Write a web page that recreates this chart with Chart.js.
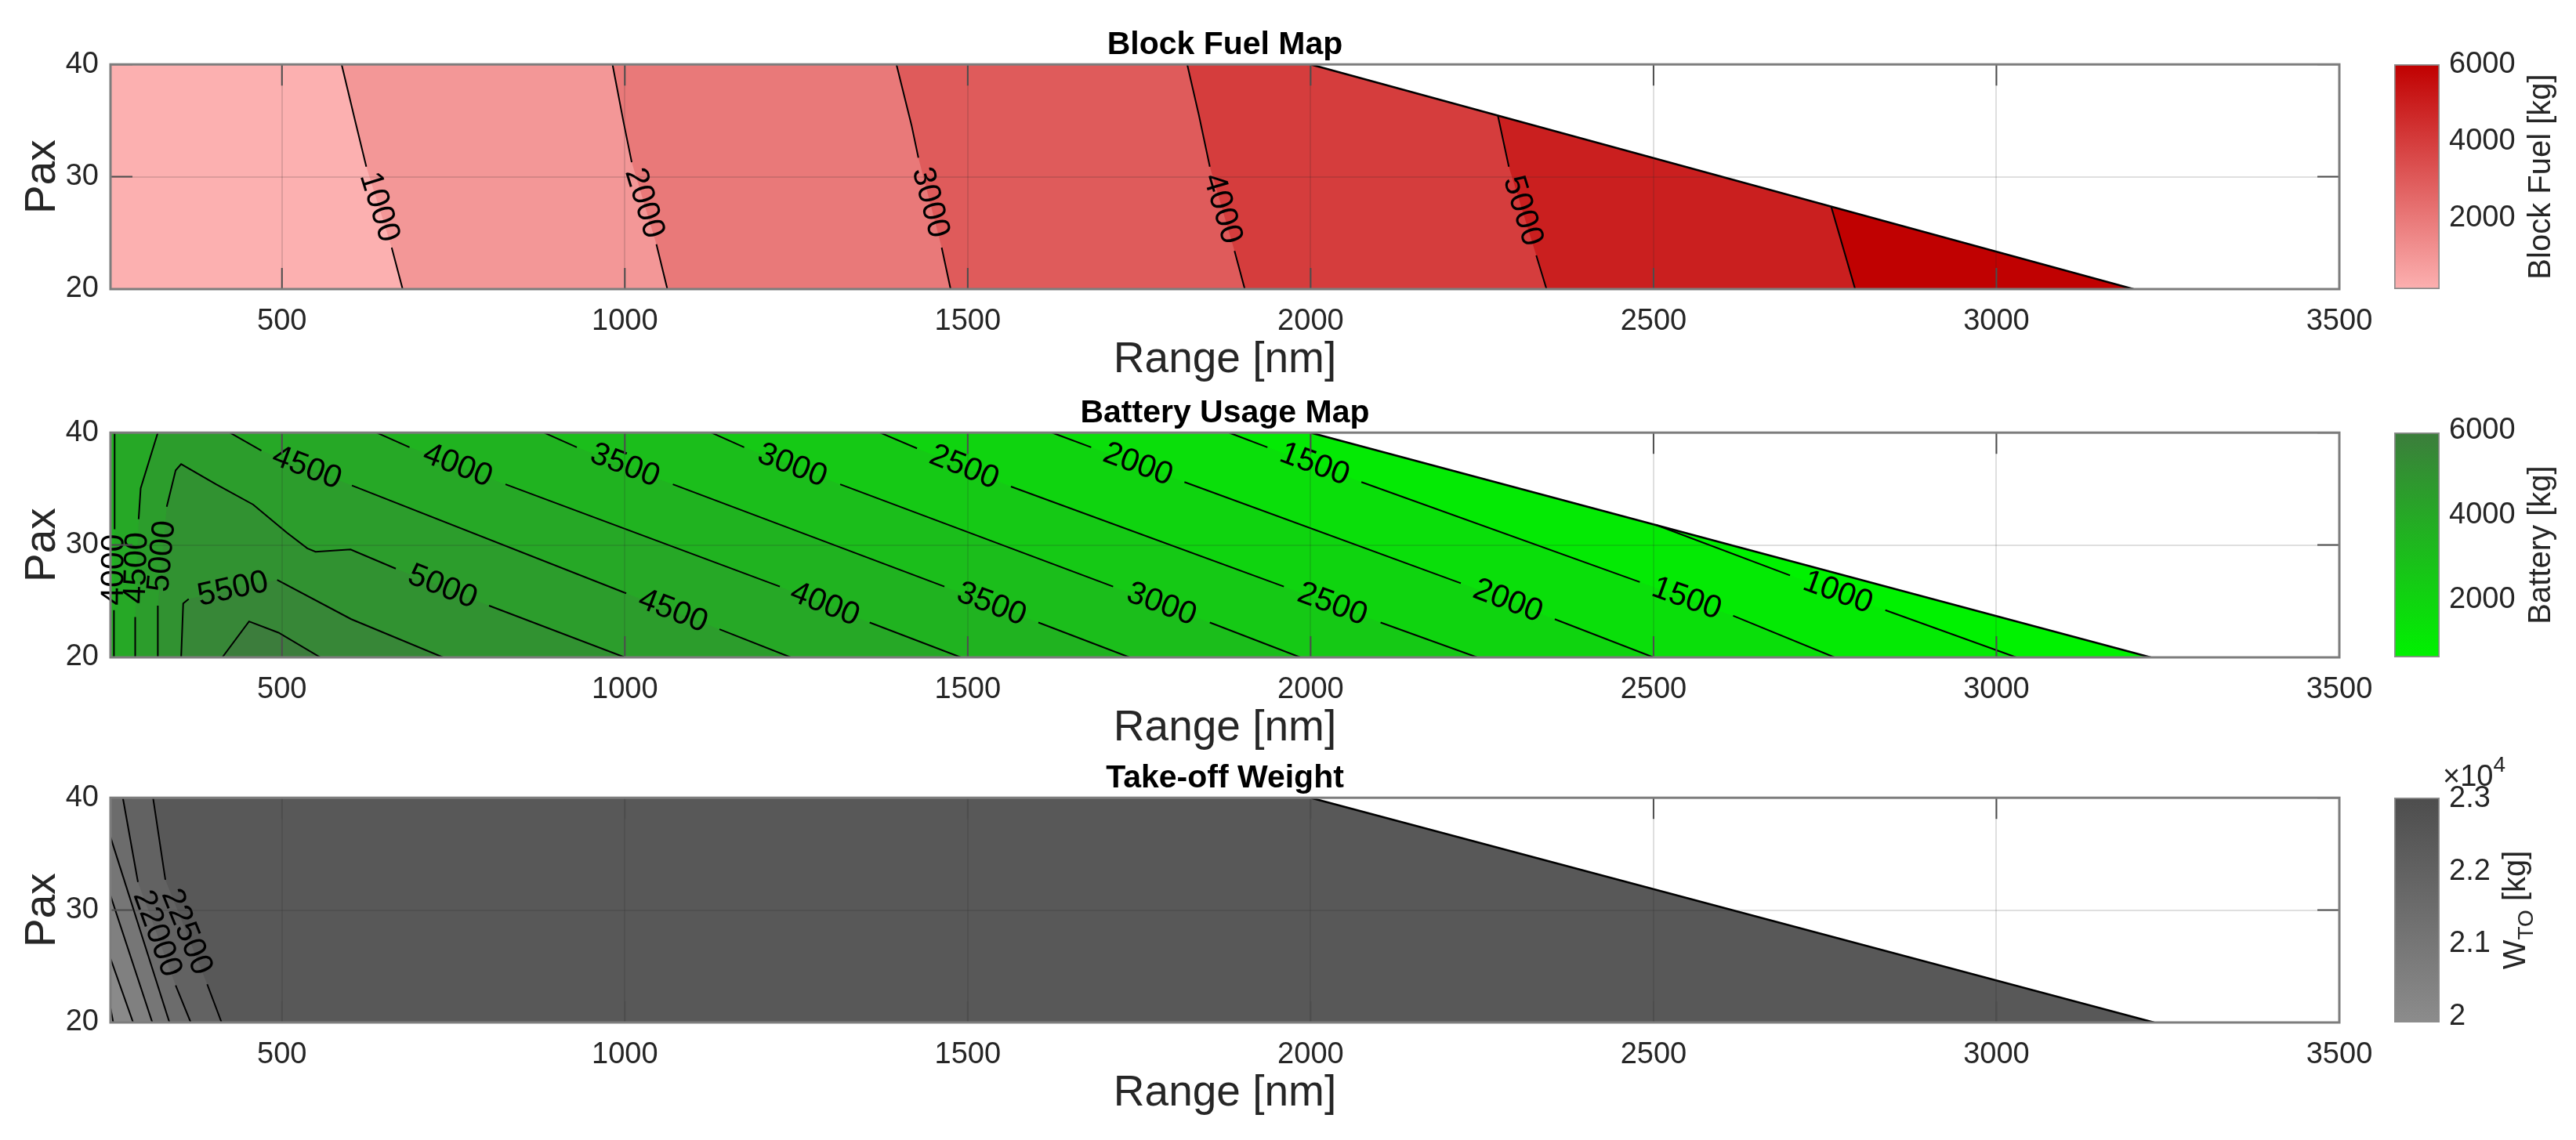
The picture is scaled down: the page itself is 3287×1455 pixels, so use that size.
<!DOCTYPE html>
<html>
<head>
<meta charset="utf-8">
<script src="https://cdn.jsdelivr.net/npm/chart.js@4.4.0/dist/chart.umd.min.js"></script>
<style>
body { margin: 0; background: #fff; }
#wrap { position: relative; width: 3287px; height: 1455px; }
canvas { position: absolute; }
</style>
</head>
<body>
<div id="wrap">
<canvas id="fuel" width="3287" height="493" style="left:0px;top:0px"></canvas>
<canvas id="fuelBar" width="287" height="493" style="left:3000px;top:0px"></canvas>
<canvas id="battery" width="3287" height="493" style="left:0px;top:470px"></canvas>
<canvas id="batteryBar" width="287" height="493" style="left:3000px;top:470px"></canvas>
<canvas id="weight" width="3287" height="493" style="left:0px;top:936px"></canvas>
<canvas id="weightBar" width="287" height="493" style="left:3000px;top:936px"></canvas>
</div>
<script>
"use strict"

/*====================================================================
Data (range in nm, pax)
====================================================================*/
const rangeTicks = [500, 1000, 1500, 2000, 2500, 3000, 3500]
const paxTicks = [20, 30, 40]

// outline of the feasible region, counter-clockwise
const fuelEdgeRange = [250, 3200, 2000, 250]
const fuelEdgePax = [20, 20, 40, 40]
const batteryEdgeRange = [250, 3225, 2000, 250]
const batteryEdgePax = [20, 20, 40, 40]
const weightEdgeRange = [250, 3230, 2000, 250]
const weightEdgePax = [20, 20, 40, 40]

// block fuel contour lines (kg), high side on the left of each line
const fuelLevels = [1000, 2000, 3000, 4000, 5000, 6000]
const fuelLineRange = [
    [587, 607, 623, 660, 676],
    [982, 998, 1010, 1046, 1062],
    [1396, 1418, 1428, 1462, 1475],
    [1820, 1837, 1853, 1889, 1904],
    [2273, 2289, 2329, 2344],
    [2759, 2794]
]
const fuelLinePax = [
    [40, 34.9, 30.9, 23.7, 20],
    [40, 34.9, 31.3, 24.0, 20],
    [40, 34.6, 31.7, 23.7, 20],
    [40, 35.5, 30.9, 23.4, 20],
    [35.45, 30.9, 23.0, 20],
    [27.35, 20]
]
const fuelLabelGap = [[2], [2], [2], [2], [1], []]

// battery contour lines (kg)
const batteryLevels = [1000, 1500, 2000, 2500, 3000, 3500, 4000, 4000, 4500, 4500, 5000, 5500, 6000]
const batteryLineRange = [
    [3029, 2838, 2699, 2503],
    [2764, 2616, 2480, 2074, 1937, 1881],
    [2500, 2356, 2219, 1816, 1680, 1623],
    [2243, 2102, 1961, 1563, 1426, 1372],
    [1985, 1853, 1712, 1314, 1174, 1126],
    [1736, 1603, 1466, 1070, 930, 882],
    [1490, 1357, 1226, 826, 686, 638],
    [256, 256, 255, 255],
    [1242, 1138, 1002, 602, 470, 424],
    [319, 294, 291, 286, 286],
    [1000, 802, 666, 600, 549, 537, 507, 458, 404, 353, 345, 332, 319, 319],
    [735, 601, 493, 364, 356, 353],
    [556, 495, 452, 413]
]
const batteryLinePax = [
    [20, 24.2, 27.3, 31.8],
    [20, 23.7, 26.7, 35.6, 38.7, 40],
    [20, 23.4, 26.6, 35.6, 38.7, 40],
    [20, 23.1, 26.3, 35.2, 38.6, 40],
    [20, 23.1, 26.3, 35.4, 38.7, 40],
    [20, 23.1, 26.3, 35.4, 38.7, 40],
    [20, 23.1, 26.3, 35.4, 38.7, 40],
    [40, 31.4, 24.2, 20],
    [20, 22.5, 25.7, 35.3, 38.4, 40],
    [40, 35.05, 32.3, 23.6, 20],
    [20, 24.6, 27.9, 29.6, 29.4, 29.7, 31.1, 33.6, 35.4, 37.2, 36.65, 33.4, 24.6, 20],
    [20, 23.4, 26.9, 25.2, 24.8, 20],
    [20, 22.2, 23.2, 20]
]
const batteryLabelGap = [[1], [1, 3], [1, 3], [1, 3], [1, 3], [1, 3], [1, 3], [1], [1, 3], [2], [1, 11], [2], []]

// take-off weight contour lines (kg)
const weightLevels = [20000, 20500, 21000, 21500, 22000, 22500]
const weightLineRange = [
    [250, 254],
    [250, 283],
    [250, 311],
    [250, 336],
    [268, 290, 345, 367],
    [312, 330, 391, 412]
]
const weightLinePax = [
    [21.3, 20],
    [25.7, 20],
    [31.3, 20],
    [36.5, 20],
    [40, 32.5, 23.3, 20],
    [40, 32.7, 23.4, 20]
]
const weightLabelGap = [[], [], [], [], [1], [1]]

// colour bars
const fuelBarTicks = [2000, 4000, 6000]
const fuelBarLimits = [160, 6020]
const batteryBarTicks = [2000, 4000, 6000]
const batteryBarLimits = [630, 5950]
const weightBarTicks = [20000, 21000, 22000, 23000]
const weightBarLimits = [19920, 23020]

/*====================================================================
Functions
====================================================================*/
const fam = '"Liberation Sans", Arial, Helvetica, sans-serif'
Chart.defaults.font.family = fam

function mix(lo, hi, lim, v) {
    const t = Math.max(0, Math.min(1, (v - lim[0]) / (lim[1] - lim[0])))
    return "rgb(" + lo.map((c, i) => Math.round(c + (hi[i] - c) * t)).join(",") + ")"
}

// position of a point along the outline (edge index + fraction)
function edgeParam(x, y, er, ep) {
    const n = er.length
    let best = null
    for (let i = 0; i < n; i++) {
        const j = (i + 1) % n
        const ax = er[i] / 3250, ay = ep[i] / 20, bx = er[j] / 3250, by = ep[j] / 20
        const px = x / 3250, py = y / 20
        const dx = bx - ax, dy = by - ay
        let t = ((px - ax) * dx + (py - ay) * dy) / (dx * dx + dy * dy)
        t = Math.max(0, Math.min(1, t))
        const d = Math.hypot(ax + t * dx - px, ay + t * dy - py)
        if (!best || d < best.d) best = {d: d, s: (i + t) % n}
    }
    return best.s
}

// polygon of the area >= level: contour pieces joined along the outline
function region(pieces, er, ep) {
    const n = er.length
    const info = pieces.map(pc => ({
        pc: pc,
        s: edgeParam(pc.r[0], pc.p[0], er, ep),
        e: edgeParam(pc.r[pc.r.length - 1], pc.p[pc.p.length - 1], er, ep)
    }))
    const pts = []
    const used = new Set()
    let cur = 0
    while (!used.has(cur)) {
        used.add(cur)
        const it = info[cur]
        it.pc.r.forEach((x, i) => pts.push({x: x, y: it.pc.p[i]}))
        let next = 0, best = Infinity
        info.forEach((o, k) => {
            const d = ((o.s - it.e) % n + n) % n
            if (d < best) { best = d; next = k }
        })
        const corners = []
        for (let v = 0; v < n; v++) {
            const d = ((v - it.e) % n + n) % n
            if (d > 1e-9 && d < best) corners.push({d: d, v: v})
        }
        corners.sort((a, b) => a.d - b.d).forEach(c => pts.push({x: er[c.v], y: ep[c.v]}))
        cur = next
    }
    return pts
}

function makePieces(levels, rr, pp, gaps) {
    return levels.map((lv, i) => ({level: lv, r: rr[i], p: pp[i], gaps: gaps[i]}))
}

function panelDecor(pieces) {
    return {
        id: "panelDecor",
        afterDatasetsDraw(chart) {
            const ctx = chart.ctx, xs = chart.scales.x, ys = chart.scales.y
            ctx.save()
            ctx.font = "41px " + fam
            ctx.fillStyle = "#000"
            ctx.textAlign = "center"
            ctx.textBaseline = "middle"
            pieces.forEach(pc => {
                pc.gaps.forEach(i => {
                    const x1 = xs.getPixelForValue(pc.r[i]), y1 = ys.getPixelForValue(pc.p[i])
                    const x2 = xs.getPixelForValue(pc.r[i + 1]), y2 = ys.getPixelForValue(pc.p[i + 1])
                    let a = Math.atan2(y2 - y1, x2 - x1)
                    if (a > Math.PI / 2 - 0.01) a -= Math.PI
                    if (a < -Math.PI / 2 - 0.01) a += Math.PI
                    ctx.save()
                    ctx.translate((x1 + x2) / 2, (y1 + y2) / 2)
                    ctx.rotate(a)
                    ctx.fillText(String(pc.level), 0, 0)
                    ctx.restore()
                })
            })
            ctx.restore()
        },
        afterDraw(chart) {
            const ctx = chart.ctx, a = chart.chartArea, xs = chart.scales.x, ys = chart.scales.y
            ctx.save()
            ctx.strokeStyle = "#4d4d4d"
            ctx.lineWidth = 2
            ctx.beginPath()
            rangeTicks.forEach(v => {
                const x = xs.getPixelForValue(v)
                ctx.moveTo(x, a.top); ctx.lineTo(x, a.top + 27)
                ctx.moveTo(x, a.bottom); ctx.lineTo(x, a.bottom - 27)
            })
            paxTicks.forEach(v => {
                const y = ys.getPixelForValue(v)
                ctx.moveTo(a.left, y); ctx.lineTo(a.left + 28, y)
                ctx.moveTo(a.right, y); ctx.lineTo(a.right - 28, y)
            })
            ctx.stroke()
            ctx.strokeStyle = "#7d7d7d"
            ctx.lineWidth = 3
            ctx.strokeRect(a.left, a.top, a.right - a.left, a.bottom - a.top)
            ctx.restore()
        }
    }
}

function contourChart(id, title, pieces, er, ep, lo, hi, lim) {
    const datasets = []
    const base = {showLine: true, pointRadius: 0, borderWidth: 0, borderColor: "transparent", fill: "shape"}
    datasets.push(Object.assign({}, base, {
        data: er.map((x, i) => ({x: x, y: ep[i]})),
        backgroundColor: mix(lo, hi, lim, lim[0]), order: 2000
    }))
    const levels = [...new Set(pieces.map(p => p.level))].sort((a, b) => a - b)
    levels.forEach((lv, k) => {
        datasets.push(Object.assign({}, base, {
            data: region(pieces.filter(p => p.level === lv), er, ep),
            backgroundColor: mix(lo, hi, lim, lv), order: 1000 - k
        }))
    })
    pieces.forEach(pc => {
        const d = []
        pc.r.forEach((x, i) => {
            d.push({x: x, y: pc.p[i]})
            if (pc.gaps.includes(i)) d.push({x: null, y: null})
        })
        datasets.push({data: d, showLine: true, pointRadius: 0, borderColor: "#000", borderWidth: 2, fill: false, order: 0})
    })
    // cut-off edge of the feasible region
    datasets.push({
        data: [{x: er[2], y: ep[2]}, {x: er[1], y: ep[1]}],
        showLine: true, pointRadius: 0, borderColor: "#000", borderWidth: 2.5, fill: false, order: 0
    })

    const grid = {color: "rgba(38,38,38,0.15)", lineWidth: 2, drawTicks: false, z: 1}
    return new Chart(document.getElementById(id), {
        type: "scatter",
        data: {datasets: datasets},
        options: {
            responsive: false, animation: false, events: [],
            layout: {padding: {right: 302}},
            plugins: {
                legend: {display: false}, tooltip: {enabled: false},
                title: {display: true, text: title, fullSize: false, color: "#000",
                    font: {size: 41, weight: "bold"}, padding: {top: 33, bottom: 0}}
            },
            scales: {
                x: {
                    type: "linear", min: 250, max: 3500,
                    afterBuildTicks: s => { s.ticks = rangeTicks.map(v => ({value: v})) },
                    afterFit: s => { s.height = 124 },
                    grid: grid, border: {display: false},
                    ticks: {font: {size: 38}, color: "#262626", padding: 19, maxRotation: 0, autoSkip: false, callback: v => String(v)},
                    title: {display: true, text: "Range [nm]", font: {size: 55}, color: "#262626", padding: {top: 0, bottom: 0}}
                },
                y: {
                    type: "linear", min: 20, max: 40,
                    afterBuildTicks: s => { s.ticks = paxTicks.map(v => ({value: v})) },
                    afterFit: s => { s.width = 141 },
                    grid: grid, border: {display: false},
                    ticks: {font: {size: 38}, color: "#262626", padding: 15, callback: v => String(v)},
                    title: {display: true, text: "Pax", font: {size: 55}, color: "#262626", padding: {top: 22, bottom: 0}}
                }
            }
        },
        plugins: [panelDecor(pieces)]
    })
}

function barDecor(parts, exp) {
    return {
        id: "barDecor",
        afterDraw(chart) {
            const ctx = chart.ctx, s = chart.scales.y, a = chart.chartArea
            ctx.save()
            ctx.font = "38px " + fam
            const maxW = Math.max(...s.ticks.map(t => ctx.measureText(String(t.label)).width))
            const bx = s.left + 12 + maxW + 44
            const cy = (a.top + a.bottom) / 2
            const widths = parts.map(p => { ctx.font = p.size + "px " + fam; return ctx.measureText(p.text).width })
            const total = widths.reduce((u, w) => u + w, 0)
            ctx.fillStyle = "#262626"
            ctx.textAlign = "left"
            ctx.textBaseline = "alphabetic"
            ctx.save()
            ctx.translate(bx, cy)
            ctx.rotate(-Math.PI / 2)
            let x = -total / 2
            parts.forEach((p, i) => {
                ctx.font = p.size + "px " + fam
                ctx.fillText(p.text, x, p.shift)
                x += widths[i]
            })
            ctx.restore()
            if (exp) {
                ctx.font = "38px " + fam
                const base = "\u00d710"
                ctx.fillText(base, s.left + 4, a.top - 15)
                const w = ctx.measureText(base).width
                ctx.font = "28px " + fam
                ctx.fillText(exp, s.left + 4 + w, a.top - 33)
            }
            ctx.restore()
        }
    }
}

function colorBar(id, ticks, lim, lo, hi, fmt, parts, exp) {
    return new Chart(document.getElementById(id), {
        type: "bar",
        data: {
            labels: [""],
            datasets: [{
                data: [[lim[0], lim[1]]],
                backgroundColor: c => {
                    const ch = c.chart
                    if (!ch.chartArea) return null
                    const y = ch.scales.y
                    const g = ch.ctx.createLinearGradient(0, y.getPixelForValue(lim[0]), 0, y.getPixelForValue(lim[1]))
                    g.addColorStop(0, mix(lo, hi, lim, lim[0]))
                    g.addColorStop(1, mix(lo, hi, lim, lim[1]))
                    return g
                },
                borderColor: "#8c8c8c", borderWidth: 2, borderSkipped: false,
                barPercentage: 1, categoryPercentage: 1
            }]
        },
        options: {
            responsive: false, animation: false, events: [],
            layout: {padding: {left: 55, top: 82, bottom: 124}},
            plugins: {legend: {display: false}, tooltip: {enabled: false}},
            scales: {
                x: {display: false},
                y: {
                    position: "right", min: lim[0], max: lim[1],
                    afterBuildTicks: s => { s.ticks = ticks.map(v => ({value: v})) },
                    afterFit: s => { s.width = 174 },
                    grid: {display: false, drawTicks: false}, border: {display: false},
                    ticks: {font: {size: 38}, color: "#262626", padding: 12, callback: fmt}
                }
            }
        },
        plugins: [barDecor(parts, exp)]
    })
}

/*====================================================================
Charts
====================================================================*/
const red = [[252, 176, 176], [192, 0, 0]]
const green = [[0, 242, 0], [60, 125, 60]]
const grey = [[140, 140, 140], [77, 77, 77]]

contourChart("fuel", "Block Fuel Map",
    makePieces(fuelLevels, fuelLineRange, fuelLinePax, fuelLabelGap),
    fuelEdgeRange, fuelEdgePax, red[0], red[1], fuelBarLimits)
colorBar("fuelBar", fuelBarTicks, fuelBarLimits, red[0], red[1], v => String(v),
    [{text: "Block Fuel [kg]", size: 40, shift: 0}], null)

contourChart("battery", "Battery Usage Map",
    makePieces(batteryLevels, batteryLineRange, batteryLinePax, batteryLabelGap),
    batteryEdgeRange, batteryEdgePax, green[0], green[1], batteryBarLimits)
colorBar("batteryBar", batteryBarTicks, batteryBarLimits, green[0], green[1], v => String(v),
    [{text: "Battery [kg]", size: 40, shift: 0}], null)

contourChart("weight", "Take-off Weight",
    makePieces(weightLevels, weightLineRange, weightLinePax, weightLabelGap),
    weightEdgeRange, weightEdgePax, grey[0], grey[1], weightBarLimits)
colorBar("weightBar", weightBarTicks, weightBarLimits, grey[0], grey[1], v => String(v / 10000),
    [{text: "W", size: 40, shift: 0}, {text: "TO", size: 28, shift: 10}, {text: " [kg]", size: 40, shift: 0}], "4")
</script>
</body>
</html>
